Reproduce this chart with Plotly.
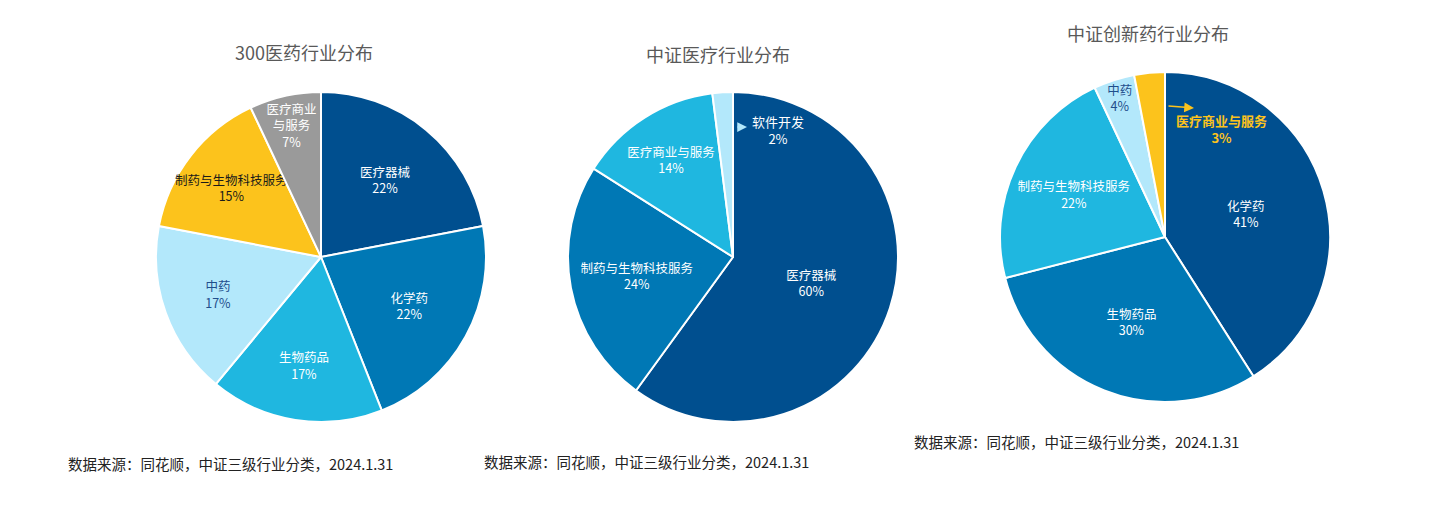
import plotly.graph_objects as go

W, H = 1440, 519

# Chart 1: 300医药行业分布
labels1 = ["医疗器械", "化学药", "生物药品", "中药", "制药与生物科技服务", "医疗商业与服务"]
values1 = [22, 22, 17, 17, 15, 7]
text1 = ["医疗器械", "化学药", "生物药品", "中药", "制药与生物科技服务", "医疗商业<br>与服务"]

# Chart 2: 中证医疗行业分布
labels2 = ["医疗器械", "制药与生物科技服务", "医疗商业与服务", "软件开发"]
values2 = [60, 24, 14, 2]
text2 = ["医疗器械", "制药与生物科技服务", "医疗商业与服务", "软件开发"]

# Chart 3: 中证创新药行业分布
labels3 = ["化学药", "生物药品", "制药与生物科技服务", "中药", "医疗商业与服务"]
values3 = [41, 30, 22, 4, 3]
text3 = ["化学药", "生物药品", "制药与生物科技服务", "中药", "医疗商业与服务"]

titles = ["300医药行业分布", "中证医疗行业分布", "中证创新药行业分布"]
source = "数据来源：同花顺，中证三级行业分类，2024.1.31"

DARK = "#004f8f"
MID = "#0078b5"
CYAN = "#1fb7e0"
LIGHT = "#b3e8fb"
YELLOW = "#fcc31c"
GRAY = "#9a9a9a"
NAVY_TXT = "#1f4e8c"

FONT = "Noto Sans CJK SC"
LS = 12.5

def dom(cx, cy, r):
    return dict(x=[(cx - r) / W, (cx + r) / W], y=[(H - cy - r) / H, (H - cy + r) / H])

fig = go.Figure()

fig.add_trace(go.Pie(
    labels=labels1, values=values1, text=text1,
    texttemplate="%{text}<br>%{percent:.0%}",
    textposition="inside", insidetextorientation="horizontal",
    sort=False, direction="clockwise", rotation=0,
    marker=dict(colors=[DARK, MID, CYAN, LIGHT, YELLOW, GRAY], line=dict(color="white", width=2)),
    textfont=dict(family=FONT, size=LS, color=["white", "white", "white", NAVY_TXT, "#1a1a1a", "white"]),
    domain=dom(321, 257, 165), showlegend=False, hoverinfo="label+percent",
))

fig.add_trace(go.Pie(
    labels=labels2, values=values2, text=text2,
    texttemplate=["%{text}<br>%{percent:.0%}"] * 3 + [""],
    textposition=["inside", "inside", "inside", "none"], insidetextorientation="horizontal",
    sort=False, direction="clockwise", rotation=0,
    marker=dict(colors=[DARK, MID, CYAN, LIGHT], line=dict(color="white", width=2)),
    textfont=dict(family=FONT, size=LS, color="white"),
    domain=dom(733, 257, 165), showlegend=False, hoverinfo="label+percent",
))

fig.add_trace(go.Pie(
    labels=labels3, values=values3, text=text3,
    texttemplate=["%{text}<br>%{percent:.0%}"] * 4 + [""],
    textposition=["inside", "inside", "inside", "inside", "none"], insidetextorientation="horizontal",
    sort=False, direction="clockwise", rotation=0,
    marker=dict(colors=[DARK, MID, CYAN, LIGHT, YELLOW], line=dict(color="white", width=2)),
    textfont=dict(family=FONT, size=LS, color=["white", "white", "white", NAVY_TXT, "white"]),
    domain=dom(1165, 237, 165), showlegend=False, hoverinfo="label+percent",
))

ann = []
for t, (x, y) in zip(titles, [(304, 52), (718, 54), (1148, 33)]):
    ann.append(dict(text=t, x=x / W, y=1 - y / H, xref="paper", yref="paper", showarrow=False,
                    font=dict(family=FONT, size=18, color="#595959"), xanchor="center", yanchor="middle"))
for (x, y) in [(66, 463), (482, 461), (912, 441)]:
    ann.append(dict(text=source, x=x / W, y=1 - y / H, xref="paper", yref="paper", showarrow=False,
                    font=dict(family=FONT, size=14.5, color="#222222"), xanchor="left", yanchor="middle"))

# outside labels for small slices (arrow + text)
ann.append(dict(text="", x=747 / W, y=1 - 127 / H, xref="paper", yref="paper",
                ax=-11, ay=0, showarrow=True, arrowhead=2, arrowsize=1.3, arrowwidth=1.5,
                arrowcolor=LIGHT, standoff=0))
ann.append(dict(text=f"{labels2[3]}<br>{values2[3]}%", x=778 / W, y=1 - 130 / H, xref="paper", yref="paper",
                xanchor="center", yanchor="middle", valign="middle",
                showarrow=False, font=dict(family=FONT, size=13, color="white")))
ann.append(dict(text="", x=1194 / W, y=1 - 108 / H, xref="paper", yref="paper",
                ax=-27, ay=-2, showarrow=True, arrowhead=2, arrowsize=1.3, arrowwidth=1.5,
                arrowcolor=YELLOW, standoff=0))
ann.append(dict(text=f"<b>{labels3[4]}</b><br><b>{values3[4]}%</b>", x=1221 / W, y=1 - 129 / H, xref="paper", yref="paper",
                xanchor="center", yanchor="middle", valign="middle",
                showarrow=False, font=dict(family=FONT, size=13, color=YELLOW)))

fig.update_layout(width=W, height=H, margin=dict(l=0, r=0, t=0, b=0),
                  paper_bgcolor="white", plot_bgcolor="white", annotations=ann,
                  uniformtext=dict(minsize=LS, mode="show"),
                  font=dict(family=FONT))

fig.write_html("out.html")
